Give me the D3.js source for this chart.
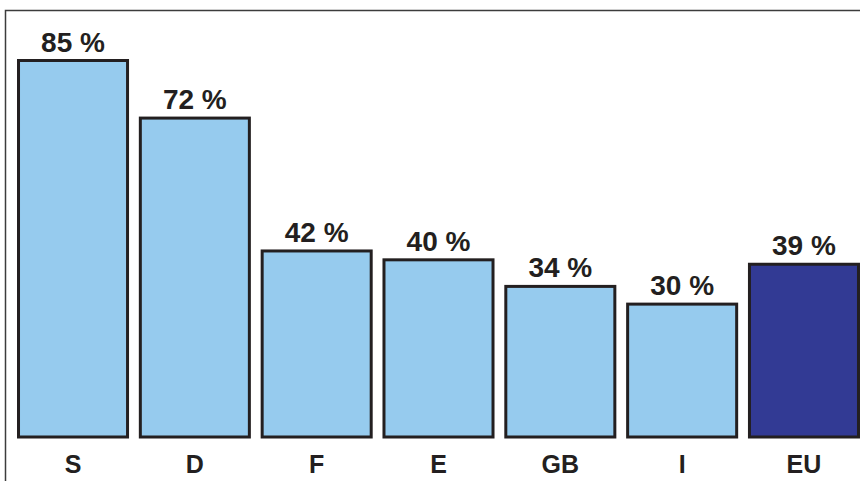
<!DOCTYPE html>
<html><head><meta charset="utf-8">
<script src="https://cdn.jsdelivr.net/npm/d3@7"></script>
<style>html,body{margin:0;padding:0;background:#fff;}svg{display:block;}</style>
</head><body>
<svg id="chart" width="860" height="481"></svg>
<script>
const categories = ["S", "D", "F", "E", "GB", "I", "EU"];
const values = [85, 72, 42, 40, 34, 30, 39];
const labels = ["85 %", "72 %", "42 %", "40 %", "34 %", "30 %", "39 %"];
const highlight = ["EU"];

const svg = d3.select("#chart");
const W = 860, H = 481;

// frame (cropped at right and bottom)
svg.append("rect").attr("x", 5.5).attr("y", 10.5).attr("width", W).attr("height", H)
  .attr("fill", "none").attr("stroke", "#3c3c3c").attr("stroke-width", 1.5);

const x = d3.scaleBand().domain(categories).range([12.1, 864.9])
  .paddingInner(0.105).paddingOuter(0.0526);
const y = d3.scaleLinear().domain([0, 85]).range([437, 60.5]);

const data = categories.map((c, i) => ({c, v: values[i], l: labels[i]}));

svg.selectAll("rect.bar").data(data).enter().append("rect")
  .attr("class", "bar")
  .attr("x", d => x(d.c)).attr("width", x.bandwidth())
  .attr("y", d => y(d.v)).attr("height", d => y(0) - y(d.v))
  .attr("fill", d => highlight.includes(d.c) ? "#323a94" : "#96cbee")
  .attr("stroke", "#231f20").attr("stroke-width", 3);

svg.selectAll("text.val").data(data).enter().append("text")
  .attr("class", "val")
  .attr("x", d => x(d.c) + x.bandwidth() / 2)
  .attr("y", d => y(d.v) - 9)
  .attr("text-anchor", "middle")
  .attr("font-family", "Liberation Sans, Arial, sans-serif")
  .attr("font-weight", "bold").attr("font-size", 28)
  .attr("fill", "#231f20")
  .text(d => d.l);

svg.selectAll("text.cat").data(data).enter().append("text")
  .attr("class", "cat")
  .attr("x", d => x(d.c) + x.bandwidth() / 2)
  .attr("y", 473)
  .attr("text-anchor", "middle")
  .attr("font-family", "Liberation Sans, Arial, sans-serif")
  .attr("font-weight", "bold").attr("font-size", 25)
  .attr("fill", "#231f20")
  .text(d => d.c);
</script>
</body></html>
